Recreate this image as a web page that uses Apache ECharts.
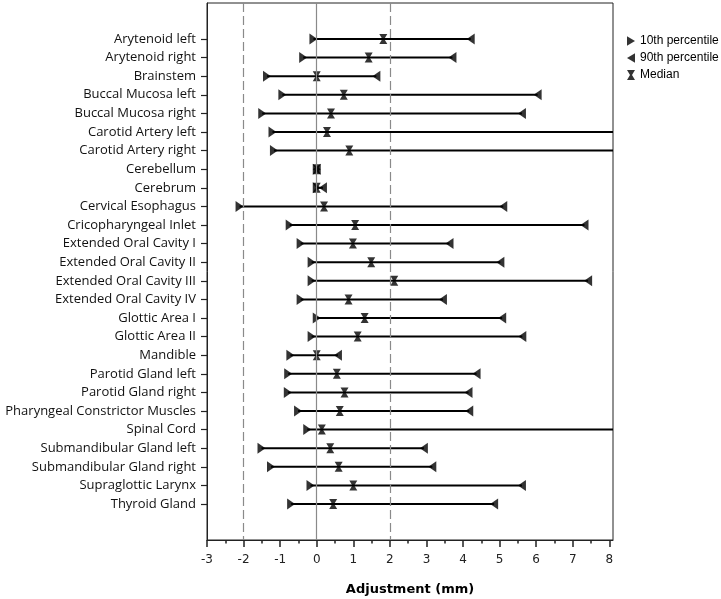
<!DOCTYPE html>
<html><head><meta charset="utf-8">
<script src="https://cdn.jsdelivr.net/npm/echarts@6/dist/echarts.min.js"></script>
<style>html,body{margin:0;padding:0;background:#fff}#c{width:721px;height:599px}</style>
</head><body><div id="c"></div>
<script>
const categories = ["Arytenoid left","Arytenoid right","Brainstem","Buccal Mucosa left","Buccal Mucosa right","Carotid Artery left","Carotid Artery right","Cerebellum","Cerebrum","Cervical Esophagus","Cricopharyngeal Inlet","Extended Oral Cavity I","Extended Oral Cavity II","Extended Oral Cavity III","Extended Oral Cavity IV","Glottic Area I","Glottic Area II","Mandible","Parotid Gland left","Parotid Gland right","Pharyngeal Constrictor Muscles","Spinal Cord","Submandibular Gland left","Submandibular Gland right","Supraglottic Larynx","Thyroid Gland"];
const p10 = [-0.09,-0.37,-1.36,-0.94,-1.49,-1.21,-1.17,0,0,-2.11,-0.74,-0.44,-0.14,-0.14,-0.44,0.0,-0.14,-0.72,-0.78,-0.79,-0.51,-0.26,-1.51,-1.25,-0.17,-0.70];
const median = [1.82,1.42,0,0.74,0.39,0.28,0.89,0,0,0.20,1.05,0.99,1.49,2.12,0.87,1.31,1.12,0,0.55,0.76,0.63,0.14,0.37,0.60,1.00,0.45];
const p90 = [4.21,3.71,1.63,6.04,5.61,9.5,9.5,0,0.17,5.10,7.32,3.63,5.02,7.42,3.45,5.07,5.62,0.58,4.37,4.15,4.17,9.5,2.93,3.16,5.61,4.85];
const xTicks = [-3,-2,-1,0,1,2,3,4,5,6,7,8];
const xMinor = [-2.5,-1.5,-0.5,0.5,1.5,2.5,3.5,4.5,5.5,6.5,7.5];
const refSolid = [0];
const refDashed = [-2, 2];

const idx = categories.map((c,i)=>i);
const triR = 'path://M0,0 L10,6 L0,12 Z';
const triL = 'path://M10,0 L0,6 L10,12 Z';
const hour = 'path://M0,0 L8,0 L5,5 L8,10 L0,10 L3,5 Z';

const chart = echarts.init(document.getElementById('c'));
chart.setOption({
  animation:false,
  backgroundColor:'#fff',
  grid:{left:207,right:108,top:3,bottom:59,outerBoundsMode:'none',containLabel:false,show:true,borderColor:'#222',borderWidth:1,backgroundColor:'transparent'},
  legend:{
    orient:'vertical', left:627, top:35, padding:0, itemGap:5, itemWidth:8, itemHeight:10,
    selectedMode:false,
    textStyle:{fontFamily:'Liberation Sans',fontSize:12,color:'#000',lineHeight:12},
    data:[
      {name:'10th percentile',icon:triR},
      {name:'90th percentile',icon:triL},
      {name:'Median',icon:hour}
    ]
  },
  xAxis:[{
    type:'value', min:-3, max:8.1, position:'bottom',
    axisLine:{show:true,onZero:false,lineStyle:{color:'#222',width:1}},
    axisTick:{show:true,length:7,lineStyle:{color:'#222',width:1.5},customValues:xTicks},
    axisLabel:{customValues:xTicks,color:'#222',fontFamily:'DejaVu Sans',fontSize:12,margin:14},
    splitLine:{show:false},
    name:'Adjustment (mm)', nameLocation:'middle', nameGap:43,
    nameTextStyle:{fontFamily:'DejaVu Sans',fontWeight:'bold',fontSize:13,color:'#000'}
  },{
    type:'value', min:-3, max:8.1, position:'bottom',
    axisLine:{show:false,onZero:false},
    axisTick:{show:true,length:3.5,lineStyle:{color:'#222',width:1.5},customValues:xMinor},
    axisLabel:{show:false,customValues:xMinor},
    splitLine:{show:false}
  }],
  yAxis:{
    type:'value', inverse:true, min:-1.935, max:26.935,
    axisLine:{show:true,onZero:false,lineStyle:{color:'#222',width:1}},
    axisTick:{show:true,length:6,lineStyle:{color:'#222',width:1.2},customValues:idx},
    axisLabel:{customValues:idx,formatter:v=>categories[Math.round(v)],color:'#111',fontFamily:'Open Sans',fontSize:13,margin:11},
    splitLine:{show:false}
  },
  series:[
    {
      type:'custom', name:'range', clip:true, silent:true,
      data: idx.map(i=>[p10[i], p90[i], i]),
      encode:{x:[0,1], y:2},
      renderItem:(params, api)=>{
        const a = api.coord([api.value(0), api.value(2)]);
        const b = api.coord([api.value(1), api.value(2)]);
        return {type:'line', shape:{x1:a[0],y1:a[1],x2:b[0],y2:b[1]}, style:{stroke:'#000',lineWidth:2}};
      },
      markLine:{
        silent:true, symbol:'none', label:{show:false},
        data:[
          ...refSolid.map(v=>({xAxis:v, lineStyle:{color:'#8a8a8a',type:'solid',width:1.2}})),
          ...refDashed.map(v=>({xAxis:v, lineStyle:{color:'#8a8a8a',type:[9,4],width:1.2}}))
        ]
      },
      z:2
    },
    {type:'scatter', name:'10th percentile', symbol:triR, symbolSize:[8,11], itemStyle:{color:'#000'}, clip:true,
     data: idx.map(i=>[p10[i], i]), z:3},
    {type:'scatter', name:'90th percentile', symbol:triL, symbolSize:[8,11], itemStyle:{color:'#000'}, clip:true,
     data: idx.map(i=>[p90[i], i]), z:3},
    {type:'scatter', name:'Median', symbol:hour, symbolSize:[8,10], itemStyle:{color:'#000'}, clip:true,
     data: idx.map(i=>[median[i], i]), z:4}
  ]
});
</script></body></html>
